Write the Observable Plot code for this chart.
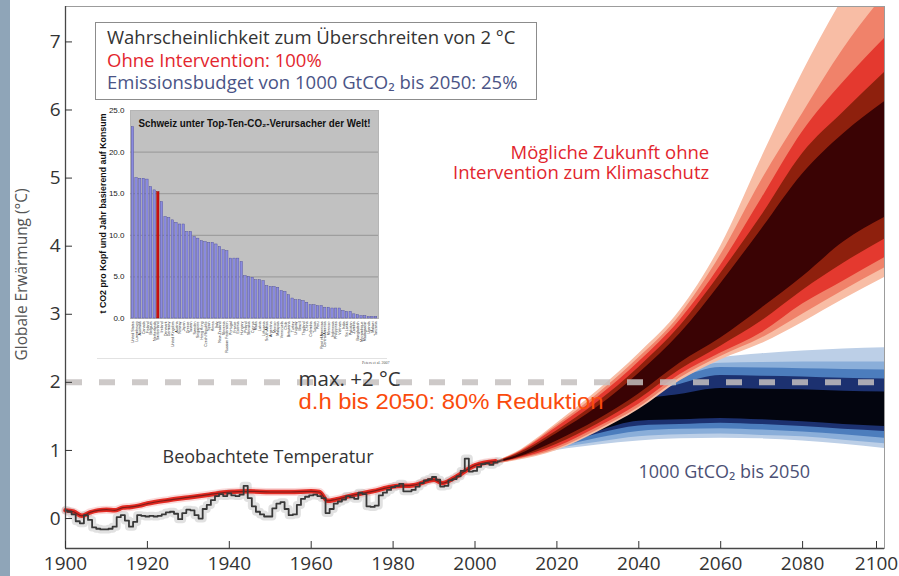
<!DOCTYPE html>
<html>
<head>
<meta charset="utf-8">
<script src="https://cdn.jsdelivr.net/npm/d3@7"></script>
<script src="https://cdn.jsdelivr.net/npm/@observablehq/plot@0.6"></script>
<style>
  body { margin: 0; background: #fff; }
  #wrap { position: relative; width: 899px; height: 576px; overflow: hidden; font-family: "Open Sans", sans-serif; background: #fff; }
  #strip { position: absolute; left: 0; top: 0; width: 10px; height: 576px; background: #8fa5b8; }
  #main { position: absolute; left: 0; top: 0; }
  #legend { position: absolute; left: 95px; top: 22px; width: 442px; height: 78px; box-sizing: border-box; border: 1.5px solid #8c8c8c; background: #fff; }
  #legend div { position: absolute; left: 11px; white-space: nowrap; font-size: 18.5px; line-height: 20px; }
  #inset { position: absolute; left: 94px; top: 103px; width: 297px; height: 262px; background: #fff; }
  #inset-sep { position: absolute; left: 3px; top: 255px; width: 290px; height: 1px; background: #e2e2e2; }
  #inset-src { position: absolute; left: 268px; top: 257px; font-family: "Liberation Serif", serif; font-size: 4px; color: #555; white-space: nowrap; }
</style>
</head>
<body>
<div id="wrap">
  <div id="strip"></div>
  <div id="main"></div>
  <div id="legend">
    <div style="top:4px;color:#333;">Wahrscheinlichkeit zum Überschreiten von 2 °C</div>
    <div style="top:27px;color:#e3262e;">Ohne Intervention: 100%</div>
    <div style="top:49px;color:#4a5486;">Emissionsbudget von 1000 GtCO₂ bis 2050: 25%</div>
  </div>
  <div id="inset"><div id="inset-plot"></div><div id="inset-sep"></div><div id="inset-src">Peters et al. 2007</div></div>
</div>
<script>
// ---------- main chart data ----------
const xDomain = [1900, 2100];
const yDomain = [-0.44, 7.52];
const xTicks = [1900, 1920, 1940, 1960, 1980, 2000, 2020, 2040, 2060, 2080];
const xLastTick = [2100];
const yTicks = [0, 1, 2, 3, 4, 5, 6, 7];

// observed temperature (annual)
const obsYears = d3.range(1900, 2007);
const obsValues = [
  0.12, 0.10, 0.06, -0.04, -0.07, 0.05, -0.02, -0.13, -0.15, -0.16,
  -0.16, -0.15, -0.12, 0.02, 0.05, -0.03, -0.12, -0.05, 0.05, 0.04,
  0.03, 0.04, 0.03, 0.04, 0.06, 0.09, 0.10, 0.07, -0.01, 0.08,
  0.13, 0.12, 0.05, 0.00, 0.14, 0.20, 0.27, 0.33, 0.36, 0.33,
  0.37, 0.34, 0.33, 0.35, 0.48, 0.30, 0.18, 0.10, 0.06, 0.03,
  0.03, 0.15, 0.22, 0.24, 0.14, 0.05, 0.06, 0.20, 0.29, 0.32,
  0.34, 0.35, 0.33, 0.30, 0.08, 0.14, 0.22, 0.25, 0.28, 0.33,
  0.31, 0.29, 0.38, 0.36, 0.18, 0.17, 0.19, 0.34, 0.38, 0.42,
  0.46, 0.48, 0.51, 0.40, 0.40, 0.42, 0.47, 0.52, 0.56, 0.58,
  0.61, 0.57, 0.47, 0.48, 0.56, 0.58, 0.62, 0.70, 0.88, 0.69,
  0.70, 0.76, 0.80, 0.81, 0.79, 0.82, 0.84
];

// model mean (smooth red line)
const modelYears = [1900, 1902, 1904, 1906, 1908, 1910, 1912, 1914, 1916, 1918, 1920, 1925, 1930, 1935, 1940, 1945, 1950, 1955, 1960, 1962, 1964, 1966, 1970, 1975, 1980, 1985, 1990, 1992, 1995, 2000, 2005];
const modelValues = [0.12, 0.10, 0.04, 0.09, 0.12, 0.13, 0.12, 0.16, 0.17, 0.19, 0.22, 0.27, 0.31, 0.35, 0.39, 0.40, 0.39, 0.39, 0.40, 0.39, 0.26, 0.28, 0.34, 0.40, 0.47, 0.49, 0.57, 0.52, 0.60, 0.78, 0.84];

// projections
const projYears = [2005, 2010, 2020, 2030, 2040, 2050, 2060, 2070, 2080, 2090, 2100];

// red fan (no intervention), outer to inner
const redPeachLo  = [0.80, 0.85, 1.00, 1.27, 1.60, 2.02, 2.33, 2.57, 2.88, 3.22, 3.54];
const redPeachHi  = [0.84, 0.97, 1.40, 1.88, 2.42, 3.05, 4.00, 5.30, 6.55, 7.65, 8.60];
const redSalmonLo = [0.80, 0.86, 1.02, 1.30, 1.63, 2.06, 2.38, 2.65, 3.00, 3.35, 3.68];
const redSalmonHi = [0.84, 0.96, 1.37, 1.83, 2.36, 2.98, 3.87, 4.97, 5.95, 6.90, 7.69];
const redRedLo    = [0.81, 0.87, 1.05, 1.34, 1.68, 2.11, 2.43, 2.73, 3.15, 3.49, 3.83];
const redRedHi    = [0.83, 0.95, 1.34, 1.78, 2.30, 2.91, 3.72, 4.70, 5.68, 6.41, 7.05];
const redBrownLo  = [0.81, 0.88, 1.09, 1.39, 1.75, 2.18, 2.53, 2.90, 3.35, 3.75, 4.10];
const redBrownHi  = [0.83, 0.94, 1.29, 1.71, 2.22, 2.82, 3.60, 4.45, 5.36, 5.97, 6.55];
const redMaroonLo = [0.81, 0.89, 1.14, 1.45, 1.83, 2.28, 2.65, 3.09, 3.55, 4.06, 4.42];
const redMaroonHi = [0.83, 0.92, 1.25, 1.64, 2.13, 2.71, 3.45, 4.25, 5.06, 5.65, 6.12];

// blue fan (1000 GtCO2 budget), outer to inner
const blueLightLo = [0.80, 0.86, 1.00, 1.08, 1.14, 1.17, 1.18, 1.17, 1.14, 1.09, 1.03];
const blueLightHi = [0.84, 0.92, 1.25, 1.60, 2.05, 2.25, 2.36, 2.42, 2.46, 2.49, 2.51];
const blueSkyLo   = [0.80, 0.86, 1.02, 1.12, 1.20, 1.23, 1.24, 1.22, 1.20, 1.15, 1.10];
const blueSkyHi   = [0.84, 0.92, 1.22, 1.55, 1.95, 2.15, 2.28, 2.29, 2.30, 2.30, 2.30];
const blueMidLo   = [0.81, 0.87, 1.04, 1.18, 1.28, 1.31, 1.32, 1.30, 1.27, 1.23, 1.18];
const blueMidHi   = [0.83, 0.91, 1.20, 1.50, 1.88, 2.07, 2.22, 2.21, 2.20, 2.19, 2.18];
const blueNavyLo  = [0.81, 0.87, 1.06, 1.24, 1.36, 1.38, 1.40, 1.38, 1.35, 1.31, 1.28];
const blueNavyHi  = [0.83, 0.90, 1.18, 1.45, 1.80, 1.97, 2.10, 2.09, 2.08, 2.06, 2.05];
const blueDarkLo  = [0.81, 0.87, 1.08, 1.28, 1.43, 1.45, 1.47, 1.45, 1.42, 1.38, 1.35];
const blueDarkHi  = [0.83, 0.90, 1.15, 1.40, 1.72, 1.82, 1.91, 1.90, 1.89, 1.87, 1.86];

const limitValue = 2;

// ---------- inset data ----------
const insetCountries = ["United States","Luxembourg","Australia","Canada","Finland","Belgium","Netherlands","Switzerland","Ireland","Denmark","Germany","United Kingdom","Austria","Norway","Japan","Greece","Taiwan","Sweden","Singapore","Hong Kong","Czech Republic","Spain","Korea","Italy","New Zealand","Slovenia","Russian Federation","Portugal","France","Estonia","Hungary","Poland","Slovakia","Cyprus","Malta","Latvia","Lithuania","South Africa","Argentina","Mexico","Malaysia","Venezuela","Chile","Botswana","Turkey","Uruguay","Brazil","Thailand","China","Colombia","Tunisia","Peru","Rest of Americas","Central America","Morocco","Indonesia","Philippines","Vietnam","India","Sri Lanka","Pakistan","Zambia","Bangladesh","Mozambique","Madagascar","Uganda","Malawi","Tanzania"];
const insetValues = [23.0,16.9,16.8,16.8,16.7,15.8,15.4,15.2,14.0,12.2,
  12.1,11.8,11.5,11.3,11.3,10.4,10.4,9.8,9.6,9.3,
  9.2,9.1,9.1,8.9,8.6,8.2,8.1,7.2,7.2,7.2,
  6.8,5.1,5.0,4.9,4.6,4.6,4.5,3.9,3.8,3.8,
  3.7,3.3,3.2,2.8,2.4,2.2,2.2,2.1,1.9,1.6,
  1.6,1.5,1.5,1.3,1.3,1.2,1.2,1.2,0.9,0.8,
  0.8,0.5,0.4,0.3,0.3,0.2,0.2,0.2];
const insetHighlight = "Switzerland";
const insetTicks = [0, 5, 10, 15, 20, 25];
const insetTitle = "Schweiz unter Top-Ten-CO₂-Verursacher der Welt!";
const insetYLabel = "t CO2 pro Kopf und Jahr basierend auf Konsum";

// ---------- build tables ----------
const band = (lo, hi) => projYears.map((year, i) => ({year, lo: lo[i], hi: hi[i]}));
const redBands = [
  {rows: band(redPeachLo, redPeachHi), fill: "#f8bda5"},
  {rows: band(redSalmonLo, redSalmonHi), fill: "#f0826a"},
  {rows: band(redRedLo, redRedHi), fill: "#e4392f"},
  {rows: band(redBrownLo, redBrownHi), fill: "#8e200d"},
  {rows: band(redMaroonLo, redMaroonHi), fill: "#3a0304"}
];
const blueBands = [
  {rows: band(blueLightLo, blueLightHi), fill: "#bccfe7"},
  {rows: band(blueSkyLo, blueSkyHi), fill: "#8aaed9"},
  {rows: band(blueMidLo, blueMidHi), fill: "#4c7dbd"},
  {rows: band(blueNavyLo, blueNavyHi), fill: "#1c3170"},
  {rows: band(blueDarkLo, blueDarkHi), fill: "#03050f"}
];
const obs = obsYears.map((year, i) => ({year, value: obsValues[i]}));
const model = modelYears.map((year, i) => ({year, value: modelValues[i]}));

const areaMark = b => Plot.areaY(b.rows, {x: "year", y1: "lo", y2: "hi", fill: b.fill, curve: "monotone-x", clip: true});
const axisStyle = {tickSize: -7, tickPadding: 15, fontSize: 19, tickFormat: d => String(d), label: null, stroke: "#333", fill: "#333"};

const main = Plot.plot({
  width: 899, height: 576,
  marginLeft: 65, marginRight: 15, marginTop: 6, marginBottom: 28,
  x: {domain: xDomain},
  y: {domain: yDomain},
  style: {fontFamily: "'Open Sans', sans-serif", color: "#333", background: "transparent"},
  marks: [
    ...blueBands.map(areaMark),
    ...redBands.map(areaMark),
    // observed temperature
    Plot.line(model, {x: "year", y: "value", stroke: "#f2a0a0", strokeWidth: 8, strokeOpacity: 0.4, curve: "monotone-x"}),
    Plot.line(obs, {x: "year", y: "value", stroke: "#a8a8a8", strokeWidth: 8, strokeOpacity: 0.35, curve: "step"}),
    Plot.line(model, {x: "year", y: "value", stroke: "#e42a22", strokeWidth: 4.5, curve: "monotone-x"}),
    Plot.line(model, {x: "year", y: "value", stroke: "#3a1212", strokeWidth: 1.2, strokeOpacity: 0.6, curve: "monotone-x"}),
    Plot.line(obs, {x: "year", y: "value", stroke: "#383838", strokeWidth: 1.8, curve: "step"}),
    // 2 °C limit
    Plot.ruleY([limitValue], {stroke: "#c4c0be", strokeOpacity: 0.85, strokeWidth: 6, strokeDasharray: "16,17", strokeDashoffset: -1}),
    // annotations
    Plot.text(["Beobachtete Temperatur"], {x: 1923.7, y: 0.81, textAnchor: "start", lineAnchor: "bottom", fontSize: 18, fill: "#333"}),
    Plot.text(["1000 GtCO₂ bis 2050"], {x: 2039.9, y: 0.59, textAnchor: "start", lineAnchor: "bottom", fontSize: 18, fill: "#4b5074"}),
    Plot.text(["Mögliche Zukunft ohne\nIntervention zum Klimaschutz"], {x: 2057.2, y: 4.99, textAnchor: "end", lineAnchor: "bottom", lineHeight: 1.07, fontSize: 18.5, fill: "#e2262e"}),
    Plot.text(["max. +2 °C"], {x: 1956.9, y: 1.95, textAnchor: "start", lineAnchor: "bottom", fontSize: 20.5, fill: "#333"}),
    Plot.text(["d.h bis 2050: 80% Reduktion"], {x: 1956.9, y: 1.61, textAnchor: "start", lineAnchor: "bottom", fontSize: 22, fill: "#fa4b0c", fontFamily: "'Liberation Sans', Arial, sans-serif"}),
    Plot.text(["Globale Erwärmung (°C)"], {frameAnchor: "left", textAnchor: "middle", rotate: -90, dx: -44, dy: -3, fontSize: 17, fill: "#555"}),
    // axes and frame
    Plot.frame({stroke: "#9c9c9c"}),
    Plot.ruleX([xDomain[0]], {stroke: "#474747", strokeWidth: 1.3}),
    Plot.ruleY([yDomain[0]], {stroke: "#474747", strokeWidth: 1.3}),
    Plot.axisY({ticks: yTicks, tickSize: -7, tickPadding: 12, fontSize: 19, label: null, stroke: "#333", fill: "#333"}),
    Plot.axisX({ticks: xTicks, ...axisStyle}),
    Plot.axisX({ticks: xLastTick, ...axisStyle, dx: -8})
  ]
});
document.getElementById("main").appendChild(main);

const insetData = insetCountries.map((name, i) => ({name, value: insetValues[i]}));
const inset = Plot.plot({
  width: 297, height: 256,
  marginLeft: 36, marginRight: 13, marginTop: 7, marginBottom: 41,
  style: {fontFamily: "'Liberation Sans', Arial, sans-serif", background: "#fff", color: "#222"},
  x: {domain: insetCountries, padding: 0.33},
  y: {domain: [0, 25]},
  marks: [
    Plot.frame({fill: "#c1c1c1", stroke: "#b5b5b5"}),
    Plot.ruleY(insetTicks.slice(1, -1), {stroke: "#8c8c8c", strokeWidth: 0.8}),
    Plot.barY(insetData, {x: "name", y: "value", fill: d => d.name === insetHighlight ? "#cc1010" : "#8a8ae0", stroke: d => d.name === insetHighlight ? "#8a0000" : "#4c4c96", strokeWidth: 0.4}),
    Plot.axisY({ticks: insetTicks, tickFormat: d3.format(".1f"), tickSize: 0, tickPadding: 6, fontSize: 8, label: null}),
    Plot.axisX({tickRotate: -90, tickSize: 0, tickPadding: 3, fontSize: 3.6, label: null}),
    Plot.text([insetTitle], {frameAnchor: "top", dy: 9, fontWeight: "bold", fontSize: 10.5, fill: "#111"}),
    Plot.text([insetYLabel], {frameAnchor: "left", textAnchor: "middle", rotate: -90, dx: -27, dy: -1, fontWeight: "bold", fontSize: 8.5, fill: "#111"})
  ]
});
document.getElementById("inset-plot").appendChild(inset);

function fitText(svg, content, len) {
  svg.querySelectorAll("text").forEach(t => {
    if (t.textContent === content) {
      t.setAttribute("textLength", len);
      t.setAttribute("lengthAdjust", "spacingAndGlyphs");
    }
  });
}
fitText(inset, insetTitle, 232);
fitText(inset, insetYLabel, 200);
fitText(main, "Globale Erwärmung (°C)", 172);
fitText(main, "d.h bis 2050: 80% Reduktion", 305);
</script>
</body>
</html>
